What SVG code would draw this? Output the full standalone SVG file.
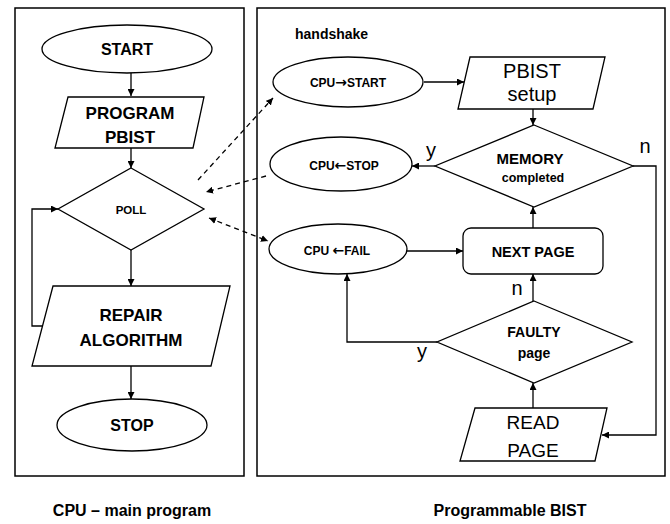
<svg xmlns="http://www.w3.org/2000/svg" width="670" height="524" viewBox="0 0 670 524">
<defs>
<marker id="ah" viewBox="0 0 10 10" refX="10" refY="5" markerWidth="7" markerHeight="7" markerUnits="userSpaceOnUse" orient="auto-start-reverse">
<path d="M0,0 L10,5 L0,10 z" fill="#000"/>
</marker>
<style>
.panel{fill:none;stroke:#000;stroke-width:1.5}
.sh{fill:#fff;stroke:#000;stroke-width:1.3}
.ln{fill:none;stroke:#000;stroke-width:1.3}
.ar{fill:none;stroke:#000;stroke-width:1.3;marker-end:url(#ah)}
.da{fill:none;stroke:#000;stroke-width:1.3;stroke-dasharray:5,4;marker-end:url(#ah)}
.db{fill:none;stroke:#000;stroke-width:1.3;stroke-dasharray:5,4;marker-end:url(#ah);marker-start:url(#ah)}
text{font-family:"Liberation Sans",Arial,sans-serif;fill:#000;text-anchor:middle}
.b{font-weight:bold}
.r{font-weight:normal}
.arw{font-family:"DejaVu Sans",sans-serif;font-weight:bold;font-size:14px}
</style>
</defs>
<rect width="670" height="524" fill="#fff"/>
<g id="panels">
<rect class="panel" x="15" y="8" width="229" height="468"/>
<rect class="panel" x="257" y="8" width="408" height="468"/>
</g>
<g id="connectors">
<line class="ar" x1="131" y1="73" x2="131" y2="96"/>
<line class="ar" x1="131" y1="148" x2="131" y2="168"/>
<line class="ar" x1="131" y1="250" x2="131" y2="286"/>
<polyline class="ar" points="42.5,326 32,326 32,209 58,209"/>
<line class="ar" x1="131" y1="366" x2="131" y2="399"/>
<line class="ar" x1="424" y1="82" x2="464" y2="82"/>
<line class="ar" x1="533" y1="109" x2="533" y2="125"/>
<line class="ar" x1="435" y1="166" x2="412" y2="166"/>
<polyline class="ar" points="633,166 656,166 656,435 602,435"/>
<line class="ar" x1="406" y1="251" x2="463" y2="251"/>
<line class="ar" x1="533" y1="228" x2="533" y2="207"/>
<line class="ar" x1="533" y1="301" x2="533" y2="274"/>
<polyline class="ar" points="437,342 347,342 347,274"/>
<line class="ar" x1="533" y1="408" x2="533" y2="383"/>
<line class="da" x1="198" y1="180" x2="273" y2="98"/>
<line class="da" x1="266" y1="176" x2="206" y2="192"/>
<line class="db" x1="209" y1="218" x2="268" y2="241"/>
</g>
<g id="start">
<ellipse class="sh" cx="127" cy="49" rx="85" ry="24"/>
<text class="b" x="127" y="55" font-size="16">START</text>
</g>
<g id="program">
<polygon class="sh" points="68,97 204,97 193,148 55,148"/>
<text class="b" x="130" y="119" font-size="17">PROGRAM</text>
<text class="b" x="130" y="143" font-size="17">PBIST</text>
</g>
<g id="poll">
<polygon class="sh" points="131,168 204,209 131,250 58,209"/>
<text class="b" x="131" y="214" font-size="11.5">POLL</text>
</g>
<g id="repair">
<polygon class="sh" points="53,286 230,286 211,366 32,366"/>
<text class="b" x="131" y="321" font-size="17">REPAIR</text>
<text class="b" x="131" y="346" font-size="17">ALGORITHM</text>
</g>
<g id="stop">
<ellipse class="sh" cx="132" cy="425" rx="75" ry="26"/>
<text class="b" x="132" y="431" font-size="16">STOP</text>
</g>
<g id="handshake">
<text class="b" x="295" y="39" font-size="14" style="text-anchor:start">handshake</text>
</g>
<g id="cpu-start">
<ellipse class="sh" cx="348" cy="82" rx="75" ry="25"/>
<text class="b" x="348" y="87" font-size="12">CPU<tspan class="arw">→</tspan>START</text>
</g>
<g id="pbist-setup">
<polygon class="sh" points="470,57 605,57 593,109 458,109"/>
<text class="r" x="532" y="78" font-size="20">PBIST</text>
<text class="r" x="532" y="101" font-size="20">setup</text>
</g>
<g id="memory">
<polygon class="sh" points="534,125 633,166 534,207 435,166"/>
<text class="b" x="530" y="164" font-size="15">MEMORY</text>
<text class="b" x="533" y="182" font-size="12.5">completed</text>
<text class="r" x="431" y="157" font-size="20">y</text>
<text class="r" x="645" y="153" font-size="20">n</text>
</g>
<g id="cpu-stop">
<ellipse class="sh" cx="341" cy="164" rx="71" ry="27"/>
<text class="b" x="344" y="170" font-size="12">CPU<tspan class="arw">←</tspan>STOP</text>
</g>
<g id="cpu-fail">
<ellipse class="sh" cx="338" cy="249" rx="69" ry="25"/>
<text class="b" x="337" y="255" font-size="12">CPU <tspan class="arw">←</tspan>FAIL</text>
</g>
<g id="next-page">
<rect class="sh" x="463" y="228" width="140" height="46" rx="8"/>
<text class="b" x="533" y="257" font-size="14.5">NEXT PAGE</text>
</g>
<g id="faulty">
<polygon class="sh" points="534,301 632,342 534,383 437,342"/>
<text class="b" x="534" y="337" font-size="14">FAULTY</text>
<text class="b" x="534" y="358" font-size="14">page</text>
<text class="r" x="517" y="295" font-size="20">n</text>
<text class="r" x="422" y="358" font-size="20">y</text>
</g>
<g id="read-page">
<polygon class="sh" points="475,408 607,408 595,461 460,461"/>
<text class="r" x="533" y="429" font-size="19">READ</text>
<text class="r" x="533" y="457" font-size="19">PAGE</text>
</g>
<g id="captions">
<text class="b" x="132" y="516" font-size="16">CPU – main program</text>
<text class="b" x="510" y="516" font-size="16">Programmable BIST</text>
</g>
</svg>
